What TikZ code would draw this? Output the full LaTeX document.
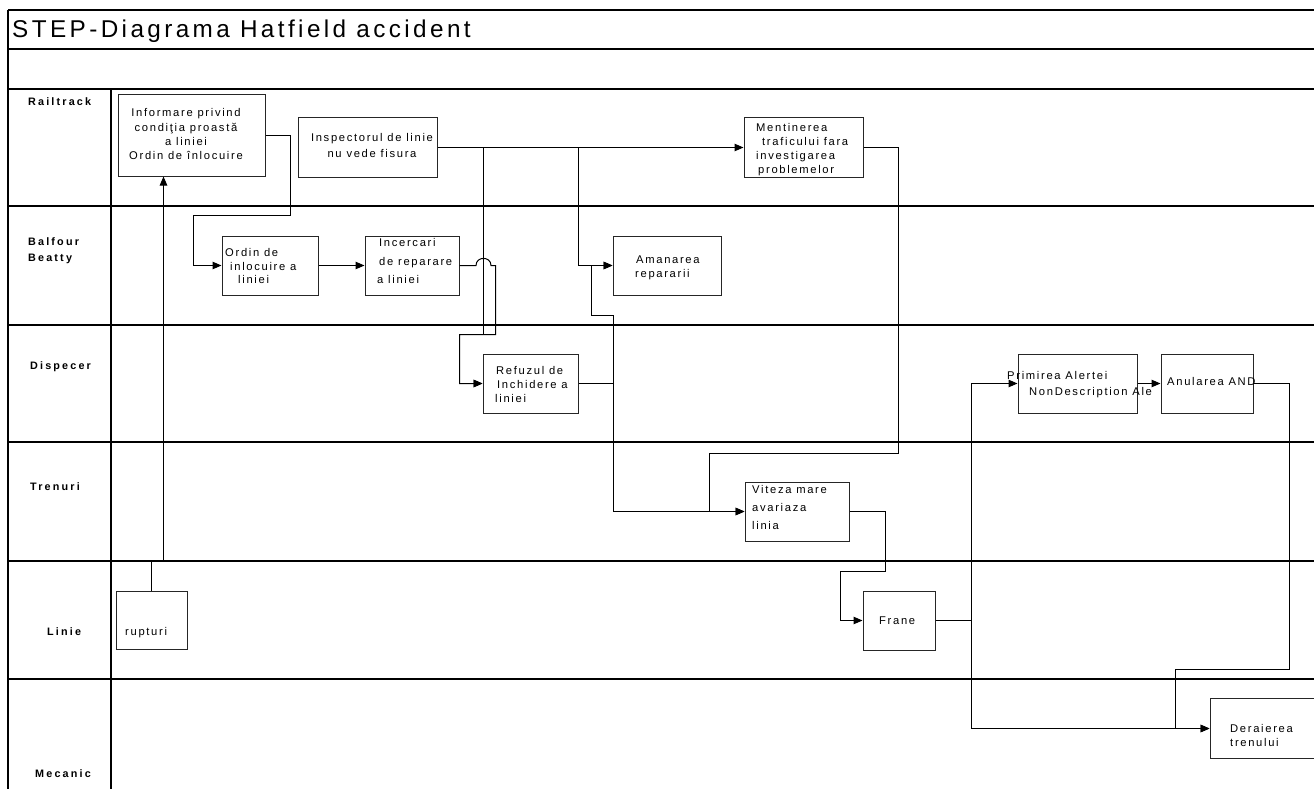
\documentclass[tikz,border=0pt]{standalone}
\usepackage{fontspec}
\setmainfont{Liberation Sans}
\newfontfamily\boxfont[LetterSpace=15]{Liberation Sans}
\newfontfamily\lanefont[LetterSpace=20]{Liberation Sans}
\newfontfamily\titlefont[LetterSpace=14]{Liberation Sans}
\usetikzlibrary{arrows.meta}
\begin{document}
\begin{tikzpicture}[x=1pt,y=-1pt,
  lane/.style={line width=1.3pt},
  box/.style={draw=black!85, line width=1pt, rectangle, inner sep=0pt},
  txt/.style={font=\boxfont\fontsize{11.2}{14}\selectfont, inner sep=0pt, align=left, anchor=north west},
  lbl/.style={font=\lanefont\bfseries\fontsize{10.8}{16}\selectfont, inner sep=0pt, align=left, anchor=north west},
  conn/.style={line width=1pt},
  arr/.style={conn, -{Triangle[length=9pt,width=7.5pt]}}]
\useasboundingbox (0,0) rectangle (1314,789);
% frame and lanes
\foreach \yy in {10,49,89,206,325,442,561,679}
  \draw[lane] (8,\yy) -- (1330,\yy);
\draw[lane] (8,10) -- (8,800);
\draw[lane] (111,89) -- (111,800);
% title
\node[font=\titlefont\fontsize{24.3}{28}\selectfont, inner sep=0pt, anchor=base west] (title) at (12,38) {STEP-Diagrama Hatfield accident};
% lane labels
\node[lbl] (lrail) at (28,97) {Railtrack};
\node[lbl] (lbal) at (28,237) {Balfour\\Beatty};
\node[lbl] (ldisp) at (30,361) {Dispecer};
\node[lbl] (ltren) at (30,482) {Trenuri};
\node[lbl] (llin) at (47,627) {Linie};
\node[lbl] (lmec) at (35,769) {Mecanic};
% boxes
\node[box, minimum width=147pt, minimum height=81pt] (inf) at (191.5,135.5) {};
\node[box, minimum width=139pt, minimum height=59pt] (insp) at (367.5,147.5) {};
\node[box, minimum width=119pt, minimum height=59pt] (men) at (803.5,147.5) {};
\node[box, minimum width=96pt, minimum height=59pt] (ord) at (270,265.5) {};
\node[box, minimum width=94pt, minimum height=59pt] (inc) at (412,265.5) {};
\node[box, minimum width=108pt, minimum height=59pt] (ama) at (667,265.5) {};
\node[box, minimum width=95pt, minimum height=59pt] (ref) at (530.5,383.5) {};
\node[box, minimum width=119pt, minimum height=59pt] (pri) at (1077.5,383.5) {};
\node[box, minimum width=92pt, minimum height=59pt] (anu) at (1207,383.5) {};
\node[box, minimum width=104pt, minimum height=59pt] (vit) at (797,511.5) {};
\node[box, minimum width=72pt, minimum height=59pt] (fra) at (899,620.5) {};
\node[box, minimum width=71pt, minimum height=58pt] (rup) at (151.5,620) {};
\node[box, minimum width=110pt, minimum height=60pt] (der) at (1265,728.5) {};
% box texts
\node[txt, align=center, anchor=north, font=\boxfont\fontsize{11.2}{14.3}\selectfont] (tinf) at (186,108.5) {Informare privind\\condiţia proastă\\a liniei\\Ordin de înlocuire};
\node[txt, align=center, anchor=north, font=\boxfont\fontsize{11.2}{15.5}\selectfont] (tinsp) at (372,133.5) {Inspectorul de linie\\nu vede fisura};
\node[txt, font=\boxfont\fontsize{11.2}{13.8}\selectfont] (tmen) at (756,123.5) {Mentinerea\\\hspace*{6pt}traficului fara\\investigarea\\\hspace*{2pt}problemelor};
\node[txt, font=\boxfont\fontsize{11.2}{13.5}\selectfont] (tord) at (225,248.5) {Ordin de\\\hspace*{5pt}inlocuire a\\\hspace*{13pt}liniei};
\node[txt, font=\boxfont\fontsize{11.2}{18.5}\selectfont] (tinc) at (377,238.5) {\hspace*{2pt}Incercari\\\hspace*{2pt}de reparare\\a liniei};
\node[txt] (tama) at (635,255.5) {\hspace*{1pt}Amanarea\\repararii};
\node[txt] (tref) at (495,366.5) {\hspace*{1pt}Refuzul de\\\hspace*{2pt}Inchidere a\\liniei};
\node[txt, font=\boxfont\fontsize{11.2}{16}\selectfont] (tpri) at (1007,371.5) {Primirea Alertei\\\hspace*{22pt}NonDescription Ale};
\node[txt] (tanu) at (1167,377.5) {Anularea AND};
\node[txt, font=\boxfont\fontsize{11.2}{18}\selectfont] (tvit) at (752,485.5) {Viteza mare\\avariaza\\linia};
\node[txt] (tfra) at (879,616.5) {Frane};
\node[txt] (trup) at (125,627.5) {rupturi};
\node[txt] (tder) at (1230,724.5) {Deraierea\\trenului};
% branch points
\coordinate (bi1) at (483.5,147.5);
\coordinate (bi2) at (578.5,147.5);
\coordinate (bf) at (971.5,620.5);
\coordinate (br) at (613.5,383.5);
% connectors
\draw[arr] (rup.north) -- (151.5,561.5) -- (163.5,561.5) -- ([xshift=-28pt]inf.south);
\draw[arr] (inf.east) -| (290.5,215.5) -- (193.5,215.5) |- (ord.west);
\draw[arr] (ord.east) -- (inc.west);
\draw[arr] (inc.east) -- (476,265.5) .. controls (476,256) and (491,256) .. (491,265.5) -- (495.5,265.5) -- (495.5,334.5) -- (459.5,334.5) |- (ref.west);
\draw[arr] (insp.east) -- (men.west);
\draw[arr] (bi1) -- (483.5,334.5) -- (459.5,334.5) |- (ref.west);
\draw[arr] (bi2) |- (ama.west);
\draw[conn] (ref.east) -- (br);
\draw[arr] (br) -- (613.5,315.5) -- (591.5,315.5) |- (ama.west);
\draw[arr] (br) |- (vit.west);
\draw[arr] (men.east) -| (898.5,453.5) -- (709.5,453.5) |- (vit.west);
\draw[arr] (vit.east) -| (885.5,571.5) -- (840.5,571.5) |- (fra.west);
\draw[conn] (fra.east) -- (bf);
\draw[arr] (bf) |- (pri.west);
\draw[arr] (bf) |- (der.west);
\draw[arr] (pri.east) -- (anu.west);
\draw[arr] (anu.east) -| (1289.5,669.5) -- (1175.5,669.5) |- (der.west);
\end{tikzpicture}
\end{document}
